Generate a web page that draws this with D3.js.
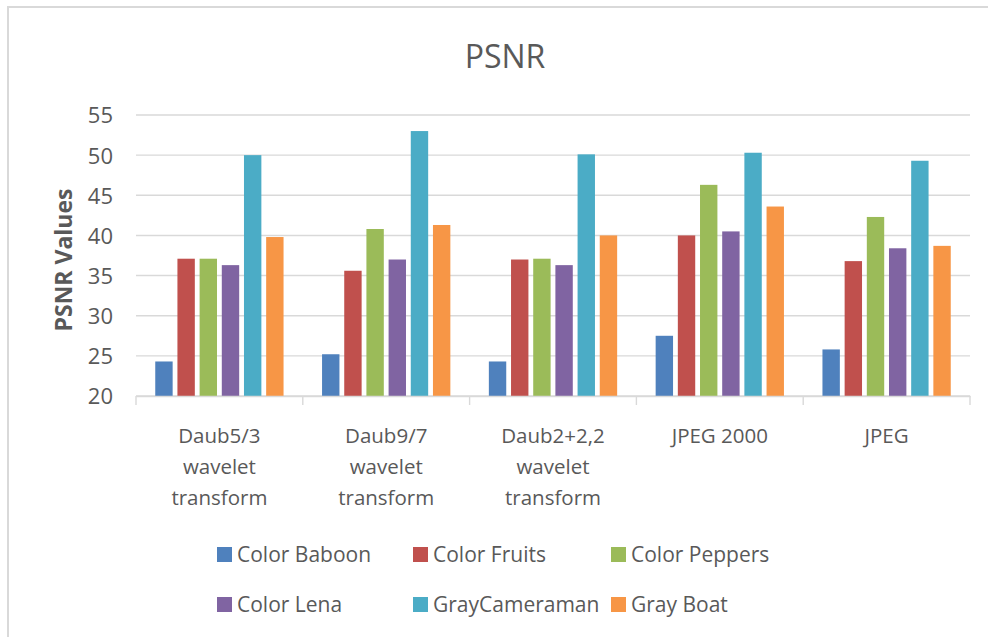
<!DOCTYPE html>
<html>
<head>
<meta charset="utf-8">
<script src="https://cdn.jsdelivr.net/npm/d3@7"></script>
<style>
  html, body { margin: 0; padding: 0; background: #fff; }
  svg { display: block; }
  text { font-family: "Open Sans", sans-serif; }
</style>
</head>
<body>
<svg id="chart" width="988" height="637"></svg>
<script>
const categories = ["Daub5/3 wavelet transform", "Daub9/7 wavelet transform", "Daub2+2,2 wavelet transform", "JPEG 2000", "JPEG"];
const categoryLines = [["Daub5/3", "wavelet", "transform"], ["Daub9/7", "wavelet", "transform"], ["Daub2+2,2", "wavelet", "transform"], ["JPEG 2000"], ["JPEG"]];
const seriesNames = ["Color Baboon", "Color Fruits", "Color Peppers", "Color Lena", "GrayCameraman", "Gray Boat"];
const colorBaboon   = [24.3, 25.2, 24.3, 27.5, 25.8];
const colorFruits   = [37.1, 35.6, 37.0, 40.0, 36.8];
const colorPeppers  = [37.1, 40.8, 37.1, 46.3, 42.3];
const colorLena     = [36.3, 37.0, 36.3, 40.5, 38.4];
const grayCameraman = [50.0, 53.0, 50.1, 50.3, 49.3];
const grayBoat      = [39.8, 41.3, 40.0, 43.6, 38.7];
const seriesColors  = ["#4f81bd", "#c0504d", "#9bbb59", "#8064a2", "#4bacc6", "#f79646"];
const yTicks = [20, 25, 30, 35, 40, 45, 50, 55];

const seriesValues = [colorBaboon, colorFruits, colorPeppers, colorLena, grayCameraman, grayBoat];
const rows = categories.map((c, i) => ({ cat: c, vals: seriesNames.map((s, j) => ({ s, v: seriesValues[j][i] })) }));

const svg = d3.select("#chart");
const textColor = "#595959";
const gridColor = "#d9d9d9";

// chart border
svg.append("rect").attr("x", 8).attr("y", 7).attr("width", 1000).attr("height", 700)
  .attr("fill", "none").attr("stroke", gridColor).attr("stroke-width", 2);

const x0 = d3.scaleBand().domain(categories).range([136, 970]).paddingInner(0).paddingOuter(0);
const x1 = d3.scaleBand().domain(seriesNames).range([0, x0.bandwidth()]).paddingInner(0.216).paddingOuter(0.868);
const y = d3.scaleLinear().domain([20, 55]).range([396, 115]);
const color = d3.scaleOrdinal().domain(seriesNames).range(seriesColors);

// gridlines
svg.append("g").selectAll("line").data(yTicks).join("line")
  .attr("x1", 136).attr("x2", 970)
  .attr("y1", d => y(d)).attr("y2", d => y(d))
  .attr("stroke", gridColor).attr("stroke-width", 1.4);

// y axis labels
const yAxis = svg.append("g").attr("transform", "translate(113,0)")
  .call(d3.axisLeft(y).tickValues(yTicks).tickSize(0).tickPadding(0).tickFormat(d3.format("d")));
yAxis.select(".domain").remove();
yAxis.selectAll("text").attr("fill", textColor).style("font-size", "22px").attr("dy", "0.36em");

// category boundary ticks
const bounds = categories.map(c => x0(c)).concat([x0(categories[categories.length - 1]) + x0.bandwidth()]);
svg.append("g").selectAll("line").data(bounds).join("line")
  .attr("x1", d => d).attr("x2", d => d).attr("y1", y(20)).attr("y2", y(20) + 9)
  .attr("stroke", gridColor).attr("stroke-width", 1.4);

// bars
const groups = svg.append("g").selectAll("g").data(rows).join("g")
  .attr("transform", d => `translate(${x0(d.cat)},0)`);
groups.selectAll("rect").data(d => d.vals).join("rect")
  .attr("x", d => x1(d.s)).attr("width", x1.bandwidth())
  .attr("y", d => y(d.v)).attr("height", d => y(20) - y(d.v))
  .attr("fill", d => color(d.s));

// x axis labels
const xAxis = svg.append("g").attr("transform", `translate(0,${y(20)})`)
  .call(d3.axisBottom(x0).tickSize(0).tickFormat(""));
xAxis.select(".domain").attr("stroke", gridColor).attr("stroke-width", 1.4);
xAxis.selectAll(".tick").each(function (d, i) {
  const t = d3.select(this).append("text")
    .attr("fill", textColor).attr("text-anchor", "middle")
    .style("font-size", "20.5px").attr("y", 47);
  categoryLines[i].forEach((ln, k) => {
    t.append("tspan").attr("x", 0).attr("dy", k === 0 ? 0 : 31).text(ln);
  });
});

// title
svg.append("text").attr("x", 505).attr("y", 68).attr("text-anchor", "middle")
  .attr("fill", textColor).style("font-size", "32px").text("PSNR");

// y axis title
svg.append("text").attr("transform", "translate(72,260) rotate(-90)")
  .attr("text-anchor", "middle").attr("fill", textColor)
  .style("font-size", "23px").style("font-weight", "bold").text("PSNR Values");

// legend
const legendPos = [[217, 547], [413, 547], [611, 547], [217, 597], [413, 597], [611, 597]];
const legend = svg.append("g").selectAll("g").data(seriesNames).join("g")
  .attr("transform", (d, i) => `translate(${legendPos[i][0]},${legendPos[i][1]})`);
legend.append("rect").attr("width", 15).attr("height", 15).attr("fill", d => color(d));
legend.append("text").attr("x", 20).attr("y", 15).attr("fill", textColor)
  .style("font-size", "21px").text(d => d);
</script>
</body>
</html>
